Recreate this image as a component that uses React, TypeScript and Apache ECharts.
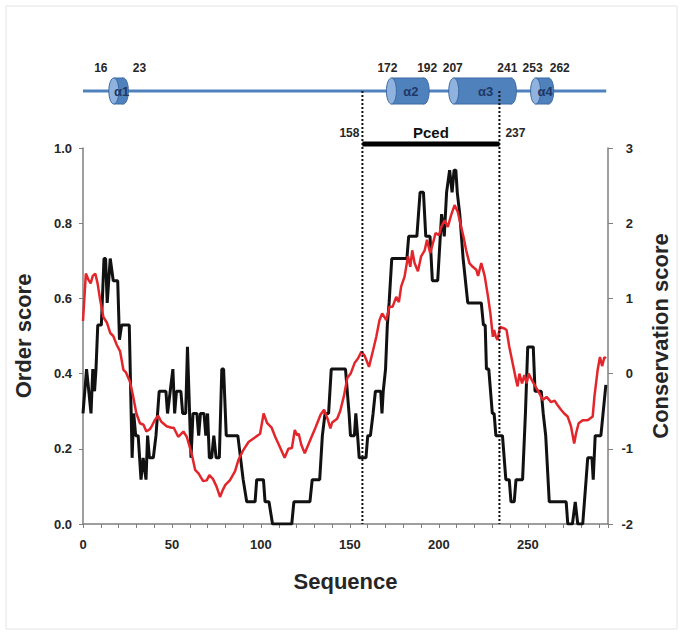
import React, { useEffect, useRef } from 'react';
import * as echarts from 'echarts';

// Order score (left axis) – [residue, score]
const orderScore: [number, number][] = [
  [0, 0.294], [2, 0.412], [4.5, 0.294], [5.5, 0.412], [6.5, 0.353], [7.3, 0.412], [8.3, 0.529], [10.3, 0.529],
  [11.8, 0.706], [12.7, 0.706], [13.6, 0.588], [15.3, 0.706], [17, 0.647], [19.5, 0.647], [20.5, 0.49], [21.7, 0.529],
  [26, 0.529], [27.6, 0.176], [28.5, 0.294], [29.6, 0.235], [31, 0.235], [32.6, 0.118], [33.8, 0.176], [35.4, 0.118],
  [36.3, 0.235], [37.3, 0.176], [39.5, 0.176], [41, 0.235], [42.8, 0.353], [46.6, 0.353], [47.5, 0.294], [49, 0.353],
  [50.5, 0.412], [51.5, 0.294], [52.5, 0.353], [55, 0.353], [56, 0.294], [57.7, 0.294], [58.7, 0.471], [60.7, 0.176],
  [61.8, 0.294], [64, 0.294], [65, 0.235], [66, 0.294], [68, 0.294], [69, 0.235], [70, 0.294], [71, 0.176],
  [72.3, 0.176], [73.5, 0.235], [74.8, 0.176], [76.6, 0.176], [78, 0.412], [79, 0.412], [80.5, 0.235], [87, 0.235],
  [90, 0.118], [92, 0.059], [96.7, 0.059], [97.6, 0.118], [101.4, 0.118], [102.3, 0.059], [104.5, 0.059], [106.5, 0],
  [117.3, 0], [118.5, 0.059], [127.5, 0.059], [128.8, 0.118], [133, 0.118], [134.5, 0.235], [136, 0.294], [138, 0.294],
  [139.5, 0.412], [147.5, 0.412], [149.5, 0.294], [150.3, 0.235], [152.5, 0.235], [153.3, 0.294], [154.3, 0.235], [155.2, 0.176],
  [159, 0.176], [160, 0.235], [161.5, 0.235], [163, 0.294], [164.3, 0.353], [167.3, 0.353], [168, 0.294], [168.7, 0.353],
  [170, 0.412], [171, 0.529], [172, 0.588], [173.5, 0.706], [182, 0.706], [183, 0.765], [187.6, 0.765], [189.4, 0.882],
  [191.3, 0.882], [192.6, 0.765], [195, 0.765], [196.3, 0.647], [199.3, 0.647], [201.5, 0.824], [203, 0.765], [204.3, 0.882],
  [206, 0.941], [207.4, 0.882], [208.5, 0.941], [209.5, 0.941], [210.3, 0.882], [211.7, 0.824], [213.6, 0.706], [216.2, 0.588],
  [223.8, 0.588], [225, 0.529], [226, 0.529], [226.7, 0.412], [228, 0.412], [230, 0.294], [231, 0.294], [232, 0.235],
  [235.7, 0.235], [237.6, 0.118], [239.5, 0.118], [240.5, 0.059], [242.3, 0.059], [243.3, 0.118], [247, 0.118], [248.6, 0.294],
  [249.9, 0.471], [253, 0.471], [254, 0.353], [257.5, 0.353], [258.6, 0.294], [260, 0.235], [262, 0.059], [271.5, 0.059],
  [272.4, 0], [275, 0], [276.6, 0.059], [278, 0], [280.8, 0], [282.7, 0.118], [283.6, 0.176], [286, 0.176],
  [286.7, 0.118], [287.8, 0.235], [291, 0.235], [293.8, 0.37]
];

// Conservation score (right axis) – [residue, score]
const conservationScore: [number, number][] = [
  [0, 0.7], [1.6, 1.33], [3, 1.25], [4.3, 1.2], [5.5, 1.3], [6.9, 1.33], [8.2, 1.2], [9.5, 1.0],
  [11.5, 0.75], [13.4, 0.68], [15.3, 0.54], [17, 0.5], [19, 0.38], [20.8, 0.3], [22.7, 0.05], [24, 0.02],
  [26.3, -0.1], [28, -0.28], [30, -0.53], [32, -0.66], [34, -0.68], [35.6, -0.77], [37.5, -0.74], [38.4, -0.71],
  [40.3, -0.62], [42.2, -0.56], [44, -0.64], [47, -0.7], [49.7, -0.72], [51, -0.72], [53.5, -0.84], [56.4, -0.77],
  [58.3, -0.84], [61, -1.06], [63, -1.28], [65, -1.33], [67.5, -1.43], [69.5, -1.42], [71, -1.35], [73, -1.4],
  [75, -1.5], [77, -1.64], [78.5, -1.55], [80, -1.48], [82.5, -1.42], [85.4, -1.3], [87.3, -1.15], [90, -1.02],
  [93, -0.91], [96, -0.86], [99.5, -0.8], [101.5, -0.53], [103.5, -0.66], [106, -0.72], [108, -0.84], [110.5, -0.97],
  [113.3, -1.12], [115.4, -1.0], [117.4, -0.99], [119, -0.75], [120.3, -0.82], [121.2, -0.8], [122.7, -0.95], [124.6, -1.06],
  [127.4, -0.9], [130.6, -0.72], [133.6, -0.54], [135.5, -0.48], [137.4, -0.6], [139, -0.73], [140, -0.65], [142.8, -0.6],
  [144.5, -0.5], [146.6, -0.3], [148.5, -0.06], [150.4, 0.0], [152.6, 0.14], [154.5, 0.2], [156.4, 0.29], [158.2, 0.24],
  [160.7, 0.09], [162.9, 0.3], [164.8, 0.49], [166.6, 0.71], [168.1, 0.8], [170.4, 0.71], [172.2, 0.89], [174, 0.89],
  [176, 1.02], [177.5, 0.95], [178.8, 1.16], [180.7, 1.29], [182.6, 1.56], [183.9, 1.42], [185, 1.64], [186.3, 1.47],
  [188.2, 1.36], [190, 1.56], [192, 1.64], [193.3, 1.78], [195.1, 1.6], [196.6, 1.73], [198.1, 1.87], [200, 1.84],
  [201.3, 1.95], [203.2, 2.04], [205, 1.95], [206.9, 2.11], [208.8, 2.24], [210.6, 2.15], [212.5, 1.95], [213.8, 1.82],
  [215.3, 1.64], [217.1, 1.47], [219, 1.42], [221, 1.38], [222, 1.3], [223.8, 1.47], [225.7, 1.3], [227.6, 1.02],
  [228.9, 0.8], [230.3, 0.49], [231, 0.58], [232, 0.49], [233, 0.45], [234.3, 0.62], [236.8, 0.6], [238, 0.58],
  [239.5, 0.36], [241.4, 0.14], [243.3, -0.08], [244.2, -0.17], [245.2, 0.0], [246.7, -0.13], [248, -0.02], [249.3, -0.13],
  [250.4, 0.0], [252.3, -0.09], [254.2, -0.17], [256.4, -0.26], [258.3, -0.35], [260.5, -0.31], [263, -0.38], [265, -0.36],
  [266.7, -0.42], [268.6, -0.48], [270.4, -0.53], [272.3, -0.57], [274.2, -0.7], [276, -0.93], [277, -0.8], [278.5, -0.66],
  [280.8, -0.62], [283.6, -0.62], [286.4, -0.57], [287.4, -0.3], [289.2, 0.05], [290.5, 0.22], [291.7, 0.1], [293, 0.22],
  [293.8, 0.2]
];

// Secondary structure (helices) – residue ranges
const helixNames = ['α1', 'α2', 'α3', 'α4'];
const helixStarts = [16, 172, 207, 253];
const helixEnds = [23, 192, 241, 262];

// Pced region: labels and dotted line positions (as drawn)
const pcedName = 'Pced';
const pcedLabels = ['158', '237'];
const pcedLines = [157, 234];

const sequenceLength = 294;

const xLabelSteps = [0, 50, 100, 150, 200, 250];

export default function App() {
  const ref = useRef<HTMLDivElement>(null);

  useEffect(() => {
    const chart = echarts.init(ref.current!, null, { renderer: 'svg' });
    const font = 'Arial, "Liberation Sans", sans-serif';
    const axisColor = '#7f7f7f';
    const textColor = '#262626';

    chart.setOption({
      animation: false,
      backgroundColor: '#ffffff',
      grid: { left: 83, top: 148, width: 525, height: 376 },
      xAxis: {
        type: 'value',
        min: 0,
        max: 295,
        interval: 10,
        name: 'Sequence',
        nameLocation: 'middle',
        nameGap: 46,
        nameTextStyle: { fontSize: 22, fontWeight: 'bold', fontFamily: font, color: textColor },
        axisLine: { lineStyle: { color: axisColor, width: 1.5 } },
        axisTick: { length: 4, lineStyle: { color: axisColor, width: 1 } },
        axisLabel: {
          formatter: (v: number) => (xLabelSteps.includes(v) ? String(v) : ''),
          margin: 14,
          fontSize: 13,
          fontWeight: 'bold',
          fontFamily: font,
          color: textColor,
        },
        splitLine: { show: false },
      },
      yAxis: [
        {
          type: 'value',
          position: 'left',
          min: 0,
          max: 1,
          interval: 0.2,
          name: 'Order score',
          nameLocation: 'middle',
          nameGap: 49,
          nameTextStyle: { fontSize: 22, fontWeight: 'bold', fontFamily: font, color: textColor },
          axisLine: { show: true, lineStyle: { color: axisColor, width: 1.5 } },
          axisTick: { show: true, length: 4, lineStyle: { color: axisColor } },
          axisLabel: {
            formatter: (v: number) => v.toFixed(1),
            margin: 11,
            fontSize: 13,
            fontWeight: 'bold',
            fontFamily: font,
            color: textColor,
          },
          splitLine: { show: false },
        },
        {
          type: 'value',
          position: 'right',
          min: -2,
          max: 3,
          interval: 1,
          name: 'Conservation score',
          nameLocation: 'middle',
          nameGap: 41,
          nameTextStyle: { fontSize: 22, fontWeight: 'bold', fontFamily: font, color: textColor },
          axisLine: { show: true, lineStyle: { color: axisColor, width: 1.5 } },
          axisTick: { show: true, length: 5, lineStyle: { color: axisColor } },
          axisLabel: {
            align: 'right',
            margin: 25,
            fontSize: 13,
            fontWeight: 'bold',
            fontFamily: font,
            color: textColor,
          },
          splitLine: { show: false },
        },
      ],
      series: [
        {
          type: 'line',
          yAxisIndex: 0,
          data: orderScore,
          showSymbol: false,
          symbol: 'none',
          lineStyle: { color: '#111111', width: 3 },
          z: 2,
        },
        {
          type: 'line',
          yAxisIndex: 1,
          data: conservationScore,
          showSymbol: false,
          symbol: 'none',
          lineStyle: { color: '#e3262b', width: 2.5 },
          z: 3,
        },
      ],
    });

    const xPx = (v: number) => chart.convertToPixel({ xAxisIndex: 0 }, v) as number;
    const yBottom = chart.convertToPixel({ yAxisIndex: 0 }, 0) as number;

    const blue = '#4f81bd';
    const blueDark = '#3b6aa3';
    const blueLight = '#8fb2de';
    const cy = 91;
    const h = 26;
    const rx = 5;
    const labelOffsets = [[-8, 11], [1, -2], [4, -9], [2, 6]];

    const g: any[] = [];
    g.push({
      type: 'rect', silent: true, z: -10,
      shape: { x: 6, y: 6, width: 671, height: 623 },
      style: { fill: 'none', stroke: '#e4e4e4', lineWidth: 1 },
    });
    g.push({
      type: 'line', silent: true, z: 10,
      shape: { x1: xPx(0), y1: cy, x2: xPx(sequenceLength), y2: cy },
      style: { stroke: blue, lineWidth: 3 },
    });
    // dotted lines
    pcedLines.forEach((p) => {
      g.push({
        type: 'line', silent: true, z: 12,
        shape: { x1: xPx(p), y1: cy, x2: xPx(p), y2: yBottom },
        style: { stroke: '#111', lineWidth: 2, lineDash: [2, 2] },
      });
    });
    helixNames.forEach((name, i) => {
      const x1 = xPx(helixStarts[i] - 1.5);
      const x2 = xPx(helixEnds[i] + 2.5);
      g.push({
        type: 'ellipse', silent: true, z: 11,
        shape: { cx: x2 - rx, cy, rx, ry: h / 2 },
        style: { fill: blue, stroke: blueDark, lineWidth: 1 },
      });
      g.push({
        type: 'rect', silent: true, z: 11,
        shape: { x: x1 + rx, y: cy - h / 2, width: x2 - x1 - 2 * rx, height: h },
        style: { fill: blue },
      });
      g.push({
        type: 'line', silent: true, z: 11,
        shape: { x1: x1 + rx, y1: cy - h / 2, x2: x2 - rx, y2: cy - h / 2 },
        style: { stroke: blueDark, lineWidth: 1 },
      });
      g.push({
        type: 'line', silent: true, z: 11,
        shape: { x1: x1 + rx, y1: cy + h / 2, x2: x2 - rx, y2: cy + h / 2 },
        style: { stroke: blueDark, lineWidth: 1 },
      });
      g.push({
        type: 'ellipse', silent: true, z: 11,
        shape: { cx: x1 + rx, cy, rx, ry: h / 2 },
        style: { fill: blueLight, stroke: blueDark, lineWidth: 1 },
      });
      g.push({
        type: 'text', silent: true, z: 13,
        x: (x1 + x2) / 2 + 3, y: cy,
        style: { text: name, fill: '#1f3864', fontSize: 13, fontWeight: 'bold', fontFamily: font, align: 'center', verticalAlign: 'middle' },
      });
      g.push({
        type: 'text', silent: true, z: 13,
        x: x1 + labelOffsets[i][0], y: 68,
        style: { text: String(helixStarts[i]), fill: textColor, fontSize: 12, fontWeight: 'bold', fontFamily: font, align: 'center', verticalAlign: 'middle' },
      });
      g.push({
        type: 'text', silent: true, z: 13,
        x: x2 + labelOffsets[i][1], y: 68,
        style: { text: String(helixEnds[i]), fill: textColor, fontSize: 12, fontWeight: 'bold', fontFamily: font, align: 'center', verticalAlign: 'middle' },
      });
    });
    const pa = xPx(pcedLines[0]);
    const pb = xPx(pcedLines[1]);
    g.push({
      type: 'rect', silent: true, z: 12,
      shape: { x: pa, y: 141.5, width: pb - pa, height: 5 },
      style: { fill: '#000' },
    });
    g.push({
      type: 'text', silent: true, z: 13,
      x: (pa + pb) / 2, y: 132,
      style: { text: pcedName, fill: '#111', fontSize: 15, fontWeight: 'bold', fontFamily: font, align: 'center', verticalAlign: 'middle' },
    });
    g.push({
      type: 'text', silent: true, z: 13,
      x: pa - 3, y: 133,
      style: { text: pcedLabels[0], fill: textColor, fontSize: 12, fontWeight: 'bold', fontFamily: font, align: 'right', verticalAlign: 'middle' },
    });
    g.push({
      type: 'text', silent: true, z: 13,
      x: pb + 6, y: 133,
      style: { text: pcedLabels[1], fill: textColor, fontSize: 12, fontWeight: 'bold', fontFamily: font, align: 'left', verticalAlign: 'middle' },
    });

    chart.setOption({ graphic: g });

    return () => {
      chart.dispose();
    };
  }, []);

  return (
    <div
      ref={ref}
      style={{ position: 'absolute', left: 0, top: 0, width: 683, height: 636, background: '#fff' }}
    />
  );
}
